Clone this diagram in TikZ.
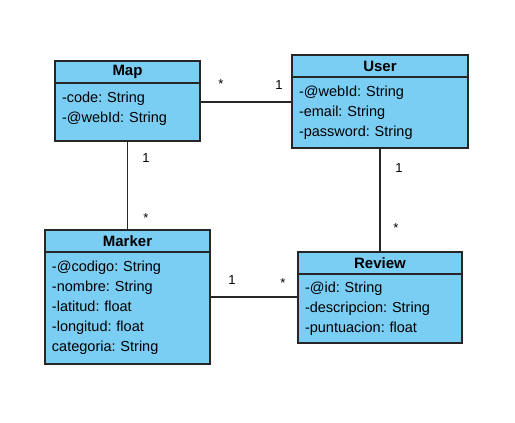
\documentclass[tikz,border=0pt]{standalone}
\usepackage{fontspec}
\setmainfont{Liberation Sans}
\usetikzlibrary{positioning}
\definecolor{classfill}{HTML}{7ACDF3}
\definecolor{ink}{HTML}{262626}
\frenchspacing
\tikzset{
  classhead/.style={draw=ink,fill=classfill,line width=1.2pt,outer sep=0pt,
                    minimum height=22pt,inner sep=0pt,anchor=north,
                    font=\fontsize{15}{18}\selectfont\bfseries},
  classbody/.style={draw=ink,fill=classfill,line width=1.2pt,outer sep=0pt,
                    inner xsep=7pt,inner ysep=0pt,align=left,
                    font=\fontsize{14.5}{20}\selectfont},
  mult/.style={font=\fontsize{13}{15}\selectfont,anchor=base,inner sep=0pt},
  assoc/.style={draw=ink,line width=1.2pt}
}
\begin{document}
\begin{tikzpicture}[x=1pt,y=-1pt]
    \path[use as bounding box] (0,0) rectangle (515,423);

    \node[classhead,minimum width=145pt] (maphead) at (127.5,61) {Map};
    \node[classbody,below=0pt of maphead,text width=131pt,minimum height=58pt] (mapbody)
      {-code: String\\-@webId: String\\[-10pt]\mbox{}};

    \node[classhead,minimum width=176pt] (userhead) at (380,55) {User};
    \node[classbody,below=0pt of userhead,text width=162pt,minimum height=71pt] (userbody)
      {-@webId: String\\-email: String\\-password: String};

    \node[classhead,minimum width=165pt] (markerhead) at (127.5,230) {Marker};
    \node[classbody,below=0pt of markerhead,text width=151pt,minimum height=112pt] (markerbody)
      {-@codigo: String\\-nombre: String\\-latitud: float\\-longitud: float\\categoria: String};

    \node[classhead,minimum width=164pt] (reviewhead) at (380,252) {Review};
    \node[classbody,below=0pt of reviewhead,text width=150pt,minimum height=69pt] (reviewbody)
      {-@id: String\\-descripcion: String\\-puntuacion: float};

    \draw[assoc] ([yshift=10pt]mapbody.east) -- ([yshift=10pt]mapbody.east -| userbody.west);
    \draw[assoc] (mapbody.south) -- (markerhead.north);
    \draw[assoc] (userbody.south) -- (reviewhead.north);
    \draw[assoc] ([yshift=11pt]markerbody.east) -- ([yshift=11pt]markerbody.east -| reviewbody.west);

    \node[mult] (mapusermany) at (221,88) {*};
    \node[mult] (mapuserone) at (279,89.5) {1};
    \node[mult] (mapmarkerone) at (146,162.5) {1};
    \node[mult] (mapmarkermany) at (146,222) {*};
    \node[mult] (userreviewone) at (399,172.5) {1};
    \node[mult] (userreviewmany) at (396,232) {*};
    \node[mult] (markerreviewone) at (232,284.5) {1};
    \node[mult] (markerreviewmany) at (283,287) {*};
  \end{tikzpicture}
\end{document}
